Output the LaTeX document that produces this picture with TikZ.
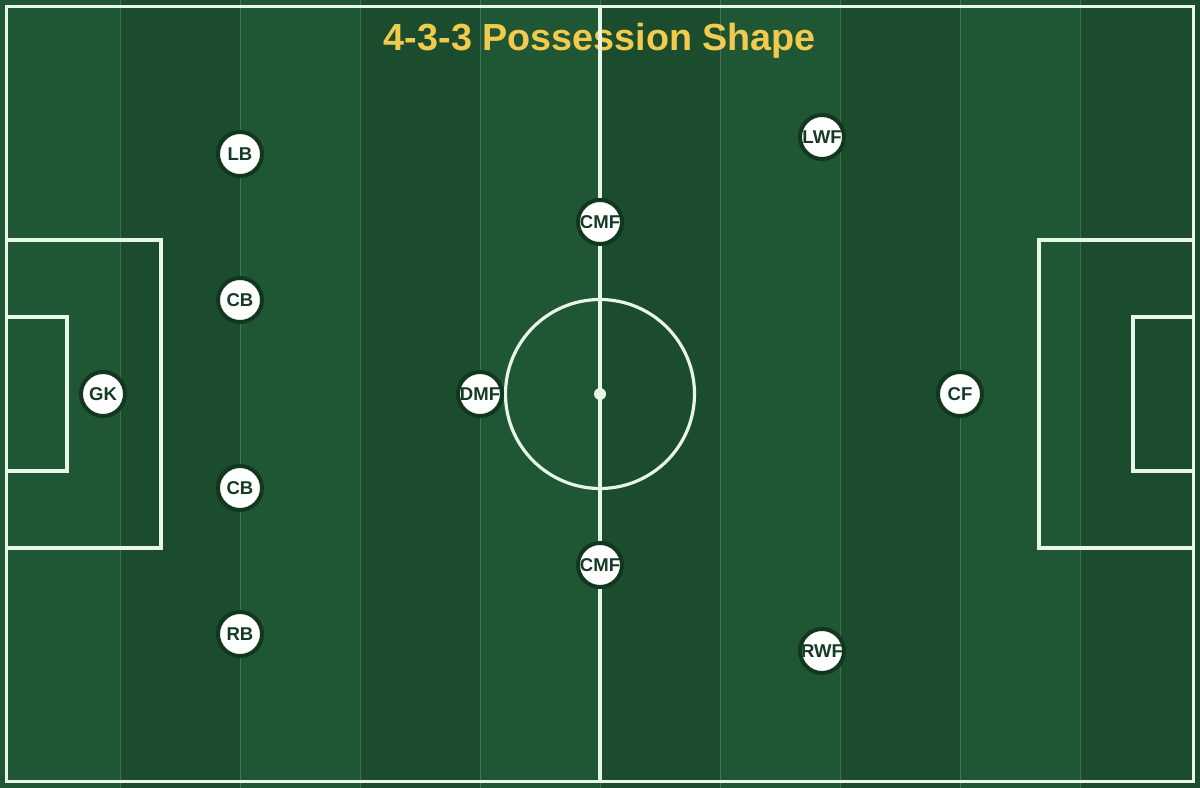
\documentclass[tikz,border=0pt]{standalone}
\usepackage{fontspec}
\setmainfont{Liberation Sans}
\definecolor{grassA}{HTML}{1F5633}
\definecolor{grassB}{HTML}{1B4C2D}
\definecolor{chalk}{HTML}{E8F5E9}
\definecolor{ring}{HTML}{12371F}
\definecolor{ink}{HTML}{153B24}
\definecolor{gold}{HTML}{F2CB4E}
\begin{document}
\begin{tikzpicture}[x=0.75pt,y=-0.75pt,
    line/.style={chalk,line width=2.4pt},
    player/.style={circle,fill=white,draw=ring,line width=3pt,
      minimum size=33pt,inner sep=0pt,text=ink,
      font=\fontsize{13.9pt}{13.9pt}\selectfont\bfseries}]
      \useasboundingbox (0,0) rectangle (1200,788);
      \foreach \i in {0,...,9} {
        \pgfmathsetmacro{\shade}{mod(\i,2)}
        \ifdim\shade pt=0pt
          \fill[grassA] (120*\i,0) rectangle ++(120,788);
        \else
          \fill[grassB] (120*\i,0) rectangle ++(120,788);
        \fi
      }
      \foreach \i in {1,...,9}
        \draw[white,opacity=0.18,line width=0.6pt] (120*\i,0) -- (120*\i,788);
      \node[gold,anchor=base,font=\fontsize{28.3pt}{28.3pt}\selectfont\bfseries]
        (title) at (600,51) {4-3-3 Possession Shape};
      \begin{scope}[line]
        \draw (6.5,6.5) rectangle (1193.5,781.5);
        \draw (600,6.5) -- (600,781.5);
        \draw (600,394) circle[radius=94.5];
        \fill (600,394) circle[radius=4.5pt];
        \draw (6.5,240) rectangle (161,548);
        \draw (6.5,317) rectangle (67,471);
        \draw (1193.5,240) rectangle (1039,548);
        \draw (1193.5,317) rectangle (1133,471);
      \end{scope}
      \draw
        (103,394) node[player] (gk){GK}
        (240,154) node[player] (lb){LB}
        (240,300) node[player] (lcb){CB}
        (240,488) node[player] (rcb){CB}
        (240,634) node[player] (rb){RB}
        (480,394) node[player] (dmf){DMF}
        (600,222) node[player] (lcmf){CMF}
        (600,565) node[player] (rcmf){CMF}
        (822,137) node[player] (lwf){LWF}
        (960,394) node[player] (cf){CF}
        (822,651) node[player] (rwf){RWF};
    \end{tikzpicture}
\end{document}
